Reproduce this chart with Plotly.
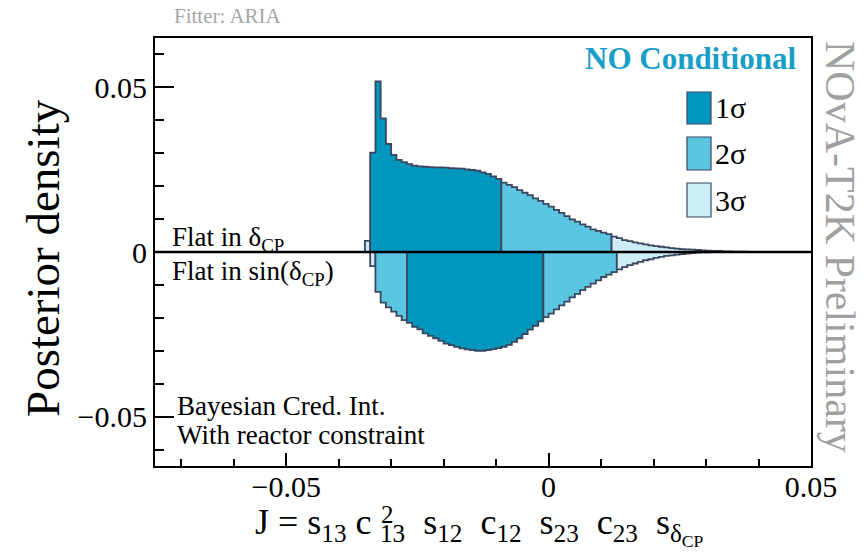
import plotly.graph_objects as go

# Binning of the Jarlskog invariant histograms
BIN_WIDTH = 0.001

# Posterior density, prior flat in delta_CP (drawn above zero)
flat_dcp_start = -0.035
flat_dcp_density = [
    0.0034, 0.0302, 0.0518, 0.0406, 0.0328, 0.0295, 0.0280, 0.0273, 0.0267, 0.0262,
    0.0260, 0.0259, 0.0258, 0.0257, 0.0257, 0.0256, 0.0255, 0.0254, 0.0253, 0.0251,
    0.0249, 0.0247, 0.0242, 0.0237, 0.0230, 0.0222, 0.0211, 0.0204, 0.0197, 0.0188,
    0.0180, 0.0173, 0.0163, 0.0155, 0.0146, 0.0138, 0.0128, 0.0119, 0.0109, 0.0099,
    0.0092, 0.0084, 0.0077, 0.0069, 0.0064, 0.0059, 0.0054, 0.0047, 0.0042, 0.0036,
    0.0033, 0.0029, 0.0026, 0.0023, 0.0020, 0.0018, 0.0016, 0.0014, 0.0012, 0.0010,
    0.0009, 0.0008, 0.0007, 0.0006, 0.0005, 0.0004, 0.0003, 0.0003, 0.0002, 0.0002,
    0.0001, 0.0001, 0.0001,
]
# credible-interval edges: [3sigma | 1sigma | 2sigma | 3sigma]
flat_dcp_edges = [-0.034, -0.009, 0.012]
flat_dcp_levels = [3, 1, 2, 3]

# Posterior density, prior flat in sin(delta_CP) (drawn mirrored below zero)
flat_sin_start = -0.034
flat_sin_density = [
    0.0043, 0.0121, 0.0154, 0.0168, 0.0181, 0.0194, 0.0207, 0.0215, 0.0227, 0.0235,
    0.0247, 0.0255, 0.0262, 0.0270, 0.0278, 0.0283, 0.0288, 0.0293, 0.0296, 0.0298,
    0.0300, 0.0300, 0.0298, 0.0295, 0.0292, 0.0288, 0.0282, 0.0273, 0.0262, 0.0249,
    0.0236, 0.0224, 0.0211, 0.0198, 0.0187, 0.0174, 0.0162, 0.0151, 0.0138, 0.0127,
    0.0116, 0.0106, 0.0096, 0.0086, 0.0076, 0.0069, 0.0061, 0.0053, 0.0046, 0.0040,
    0.0035, 0.0030, 0.0025, 0.0022, 0.0018, 0.0015, 0.0012, 0.0010, 0.0008, 0.0006,
    0.0005, 0.0003, 0.0002, 0.0001, 0.0001,
]
flat_sin_edges = [-0.033, -0.027, -0.001, 0.013]
flat_sin_levels = [3, 2, 1, 2, 3]

level_names = {1: "1σ", 2: "2σ", 3: "3σ"}
level_colors = {1: "#0096be", 2: "#5bc6e2", 3: "#cdeef6"}
OUTLINE = "#3c465f"
SERIF = "Liberation Serif, Times New Roman, serif"

W, H = 867, 558
ML, MR, MT, MB = 155, 56, 38, 92


def px(x):
    return (x - ML) / (W - ML - MR)


def py(y):
    return (H - MB - y) / (H - MT - MB)


def region_steps(start, density, lo, hi, sign):
    """Closed step outline of the bins whose left edge lies in [lo, hi)."""
    xs, ys = [], []
    for i, v in enumerate(density):
        left = round(start + i * BIN_WIDTH, 4)
        if lo - 1e-9 <= left < hi - 1e-9:
            if not xs:
                xs.append(left)
                ys.append(0.0)
            xs.append(left)
            ys.append(sign * v)
            last_right = round(left + BIN_WIDTH, 4)
            last_v = sign * v
    xs += [last_right, last_right]
    ys += [last_v, 0.0]
    return xs, ys


def add_hist(fig, start, density, edges, levels, sign):
    n_end = round(start + len(density) * BIN_WIDTH, 4)
    bounds = [start] + edges + [n_end]
    for k, lev in enumerate(levels):
        xs, ys = region_steps(start, density, bounds[k], bounds[k + 1], sign)
        fig.add_trace(go.Scatter(
            x=xs, y=ys, mode="lines", line=dict(shape="hv", color=OUTLINE, width=1.8),
            fill="toself", fillcolor=level_colors[lev], name=level_names[lev],
            showlegend=False, hoverinfo="skip",
        ))


fig = go.Figure()
add_hist(fig, flat_dcp_start, flat_dcp_density, flat_dcp_edges, flat_dcp_levels, +1)
add_hist(fig, flat_sin_start, flat_sin_density, flat_sin_edges, flat_sin_levels, -1)

tick_font = dict(family=SERIF, size=30, color="black")
fig.update_xaxes(
    range=[-0.075, 0.05], showline=True, linecolor="black", linewidth=2, mirror=True,
    ticks="inside", ticklen=13, tickwidth=1.5, tickcolor="black", ticklabelstandoff=-7,
    tickvals=[-0.05, 0, 0.05], ticktext=["−0.05", "0", "0.05"], tickfont=tick_font,
    minor=dict(ticks="inside", dtick=0.01, tick0=0, ticklen=7, tickwidth=1.5, tickcolor="black"),
    showgrid=False, zeroline=False,
)
fig.update_yaxes(
    range=[-0.065, 0.065], showline=True, linecolor="black", linewidth=2, mirror=True,
    ticks="inside", ticklen=19, tickwidth=1.5, tickcolor="black",
    tickvals=[-0.05, 0, 0.05], ticktext=["−0.05", "0", "0.05"], tickfont=tick_font,
    minor=dict(ticks="inside", dtick=0.01, tick0=0, ticklen=9, tickwidth=1.5, tickcolor="black"),
    showgrid=False, zeroline=False,
)

shapes = [
    dict(type="line", xref="paper", yref="y", x0=0, x1=1, y0=0, y1=0,
         line=dict(color="black", width=2.5), layer="above"),
]
annotations = []

# legend boxes and labels
for lev, (y0, y1) in zip([1, 2, 3], [(92, 124), (137, 170), (183, 217)]):
    shapes.append(dict(type="rect", xref="paper", yref="paper",
                       x0=px(687), x1=px(711), y0=py(y1), y1=py(y0),
                       fillcolor=level_colors[lev], line=dict(color=OUTLINE, width=1.2)))
    annotations.append(dict(xref="paper", yref="paper", x=px(713), y=py((y0 + y1) / 2),
                            text=level_names[lev], showarrow=False, xanchor="left",
                            yanchor="middle", font=dict(family=SERIF, size=30, color="black")))


def note(text, x, y, size, color="black", xanchor="left", yanchor="middle", angle=0, bold=False):
    annotations.append(dict(
        xref="paper", yref="paper", x=px(x), y=py(y), text=f"<b>{text}</b>" if bold else text,
        showarrow=False, xanchor=xanchor, yanchor=yanchor, textangle=angle,
        font=dict(family=SERIF, size=size, color=color),
    ))


note("NO Conditional", 798, 58, 31, color="#199fc6", xanchor="right", bold=True)
note("Flat in δ<sub>CP</sub>", 170, 239, 27)
note("Flat in sin(δ<sub>CP</sub>)", 170, 273, 27)
note("Bayesian Cred. Int.", 175, 406, 27)
note("With reactor constraint", 175, 435, 27)
note("Fitter: ARIA", 172, 16, 21, color="#a6a6a6")
note("NOvA-T2K Preliminary", 840, 247, 42, color="#a0a0a0", xanchor="center", angle=90)
note("Posterior density", 43, 258, 47, xanchor="center", angle=-90)

# x-axis title, with the c_13 super/subscripts stacked
XT_SPLIT, XT_TOP = 374, 500
note("J = s<sub>13</sub> c", XT_SPLIT, XT_TOP, 36, xanchor="right", yanchor="top")
note("<sub>13</sub>\u2002s<sub>12</sub>\u2002c<sub>12</sub>\u2002s<sub>23</sub>"
     "\u2002c<sub>23</sub>\u2002s<sub>δ<sub>CP</sub></sub>",
     XT_SPLIT + 4, XT_TOP, 36, xanchor="left", yanchor="top")
note("2", XT_SPLIT + 5, 514, 25, xanchor="left")

fig.update_layout(
    width=W, height=H, margin=dict(l=ML, r=MR, t=MT, b=MB),
    paper_bgcolor="white", plot_bgcolor="white", showlegend=False,
    shapes=shapes, annotations=annotations,
)

fig.write_html("out.html")
